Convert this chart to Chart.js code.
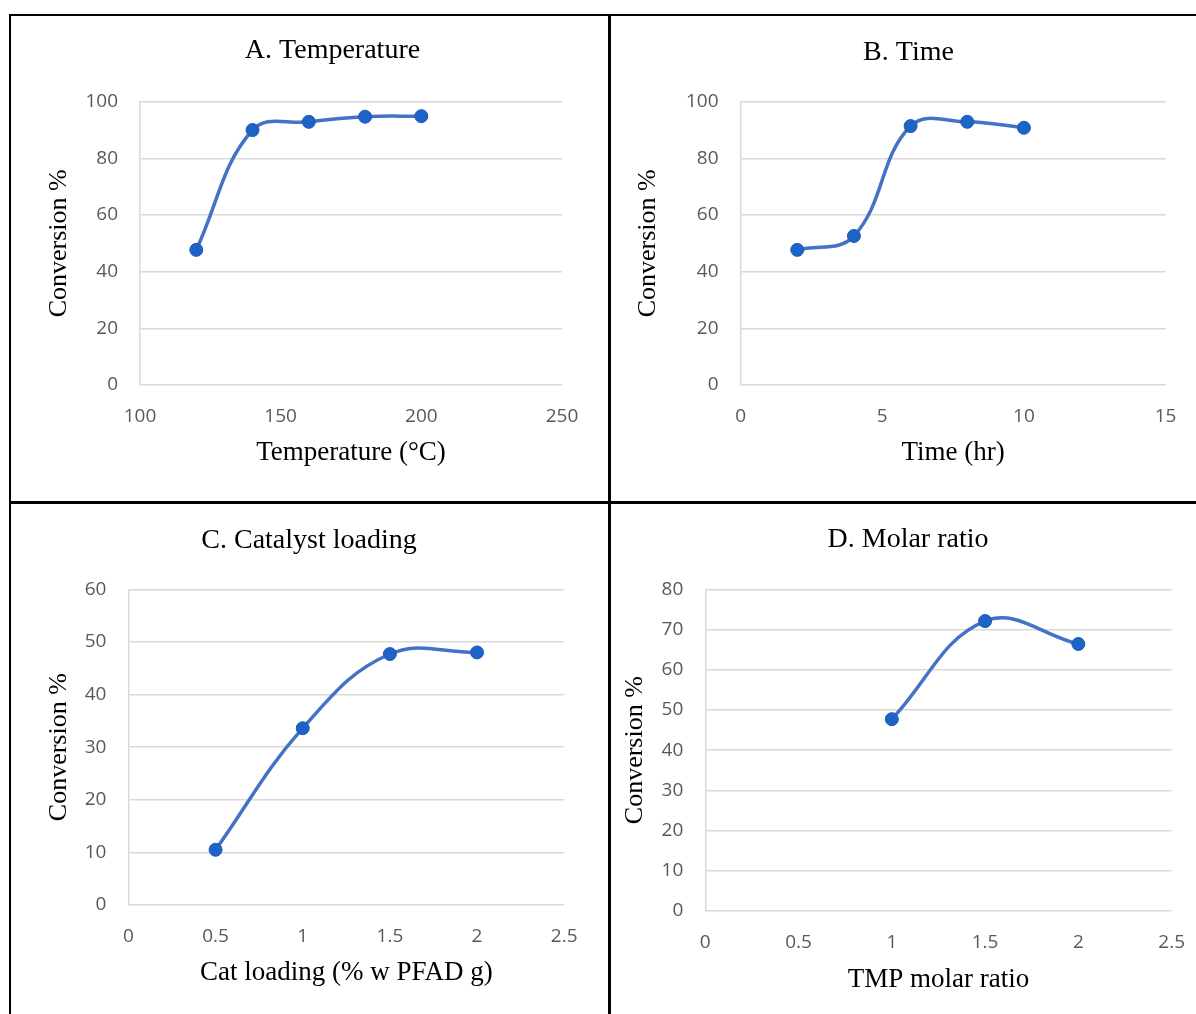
<!DOCTYPE html>
<html>
<head>
<meta charset="utf-8">
<script src="https://cdn.jsdelivr.net/npm/chart.js@4.4.1/dist/chart.umd.min.js"></script>
<style>
  html, body { margin: 0; padding: 0; background: #fff; }
  body { width: 1196px; height: 1014px; position: relative; overflow: hidden; }
  canvas { position: absolute; }
  .rule { position: absolute; background: #000; }
</style>
</head>
<body>
<div class="rule" style="left:9px;top:14px;width:1187px;height:2px"></div>
<div class="rule" style="left:9px;top:14px;width:2px;height:1000px"></div>
<div class="rule" style="left:608px;top:14px;width:3px;height:1000px"></div>
<div class="rule" style="left:9px;top:501px;width:1187px;height:3px"></div>

<script>
// values
const tempX = [120, 140, 160, 180, 200];
const tempY = [47.7, 90.0, 92.9, 94.7, 94.9];
const timeX = [2, 4, 6, 8, 10];
const timeY = [47.7, 52.6, 91.4, 92.9, 90.8];
const catX = [0.5, 1, 1.5, 2];
const catY = [10.5, 33.6, 47.7, 48.0];
const ratioX = [1, 1.5, 2];
const ratioY = [47.7, 72.1, 66.4];

// tick labels
const tempTicks = [100, 150, 200, 250];
const timeTicks = [0, 5, 10, 15];
const catTicks = [0, 0.5, 1, 1.5, 2, 2.5];
const ratioTicks = [0, 0.5, 1, 1.5, 2, 2.5];
const convTicksA = [0, 20, 40, 60, 80, 100];
const convTicksC = [0, 10, 20, 30, 40, 50, 60];
const convTicksD = [0, 10, 20, 30, 40, 50, 60, 70, 80];

// texts
const panelTitles = ['A. Temperature', 'B. Time', 'C. Catalyst loading', 'D. Molar ratio'];
const xTitles = ['Temperature (\u00B0C)', 'Time (hr)', 'Cat loading (% w PFAD g)', 'TMP molar ratio'];
const yTitle = 'Conversion %';

const SERIF = "'Liberation Serif', 'Times New Roman', serif";
const SANS = "'Open Sans', 'Liberation Sans', Arial, sans-serif";
const LINE = '#4472C4';
const MARK = '#1e64c8';
const GRID = '#d9d9d9';

const TITLE_SIZE = 28;
const XLABEL_SIZE = 27;
const YLABEL_SIZE = 26;
const TICK_SIZE = 19;

// b: page positions of the panel parts (canvas left/top/height, plot edges, text centres)
function makeChart(xs, ys, xTicks, yTicks, title, xTitle, b) {
    // the title is centred on [left, rightEdge]; an empty right axis fills the gap
    const rightEdge = 2 * b.titleC - b.left;
    const canvas = document.createElement('canvas');
    canvas.width = Math.ceil(rightEdge - b.left);
    canvas.height = b.h;
    canvas.style.left = b.left + 'px';
    canvas.style.top = b.top + 'px';
    document.body.appendChild(canvas);

    const tHalf = TITLE_SIZE * 1.2 / 2;
    const xHalf = XLABEL_SIZE * 1.2 / 2;
    const yHalf = YLABEL_SIZE * 1.2 / 2;
    const points = xs.map((x, i) => ({x: x, y: ys[i]}));

    return new Chart(canvas, {
        type: 'scatter',
        data: {
            datasets: [{
                data: points,
                showLine: true,
                tension: 0.4,
                borderColor: LINE,
                borderWidth: 3.5,
                pointRadius: 6.5,
                pointBorderWidth: 1,
                pointBackgroundColor: MARK,
                pointBorderColor: '#1a5ab5'
            }]
        },
        options: {
            responsive: false,
            animation: false,
            events: [],
            layout: { padding: 0 },
            plugins: {
                legend: { display: false },
                tooltip: { enabled: false },
                title: {
                    display: true,
                    text: title,
                    color: '#000',
                    font: { family: SERIF, size: TITLE_SIZE, weight: 'normal' },
                    padding: { top: b.titleY - b.top - tHalf, bottom: b.plotT - b.titleY - tHalf }
                }
            },
            scales: {
                x: {
                    type: 'linear',
                    min: xTicks[0],
                    max: xTicks[xTicks.length - 1],
                    afterBuildTicks: s => { s.ticks = xTicks.map(v => ({value: v})); },
                    afterFit: s => { s.height = b.top + b.h - b.plotB; },
                    grid: { display: false, drawTicks: false },
                    border: { display: false },
                    ticks: {
                        padding: 20,
                        maxRotation: 0,
                        autoSkip: false,
                        color: '#595959',
                        font: { family: SANS, size: TICK_SIZE },
                        callback: v => String(v)
                    },
                    title: {
                        display: true,
                        text: xTitle,
                        color: '#000',
                        font: { family: SERIF, size: XLABEL_SIZE },
                        padding: { top: 0, bottom: b.top + b.h - b.xTitleY - xHalf }
                    }
                },
                y: {
                    type: 'linear',
                    position: 'left',
                    min: yTicks[0],
                    max: yTicks[yTicks.length - 1],
                    afterBuildTicks: s => { s.ticks = yTicks.map(v => ({value: v})); },
                    afterFit: s => { s.width = b.plotL - b.left; },
                    grid: { color: GRID, lineWidth: 1.5, drawTicks: false },
                    border: { display: true, color: GRID, width: 1.5 },
                    ticks: {
                        padding: 22,
                        color: '#595959',
                        font: { family: SANS, size: TICK_SIZE },
                        callback: v => String(v)
                    },
                    title: {
                        display: true,
                        text: yTitle,
                        color: '#000',
                        font: { family: SERIF, size: YLABEL_SIZE },
                        padding: { top: b.yTitleX - b.left - yHalf, bottom: 0 }
                    }
                },
                spacer: {
                    type: 'linear',
                    position: 'right',
                    afterFit: s => { s.width = rightEdge - b.plotR; },
                    grid: { display: false, drawTicks: false },
                    border: { display: false },
                    ticks: { display: false },
                    title: { display: false }
                }
            }
        }
    });
}

makeChart(tempX, tempY, tempTicks, convTicksA, panelTitles[0], xTitles[0],
    {left: 11, top: 16, h: 485, plotL: 140, plotR: 562, plotT: 101.7, plotB: 385,
     titleC: 332.5, titleY: 51, xTitleY: 453, yTitleX: 59.5});
makeChart(timeX, timeY, timeTicks, convTicksA, panelTitles[1], xTitles[1],
    {left: 611, top: 16, h: 485, plotL: 740.6, plotR: 1165.6, plotT: 101.7, plotB: 385,
     titleC: 908.5, titleY: 53, xTitleY: 453, yTitleX: 648.5});
makeChart(catX, catY, catTicks, convTicksC, panelTitles[2], xTitles[2],
    {left: 11, top: 504, h: 510, plotL: 128.4, plotR: 564.2, plotT: 589.3, plotB: 905,
     titleC: 309, titleY: 541, xTitleY: 973, yTitleX: 59.5});
makeChart(ratioX, ratioY, ratioTicks, convTicksD, panelTitles[3], xTitles[3],
    {left: 611, top: 504, h: 510, plotL: 705.3, plotR: 1176, plotT: 589.3, plotB: 911,
     titleC: 908, titleY: 540, xTitleY: 980, yTitleX: 635.5});
</script>
</body>
</html>
